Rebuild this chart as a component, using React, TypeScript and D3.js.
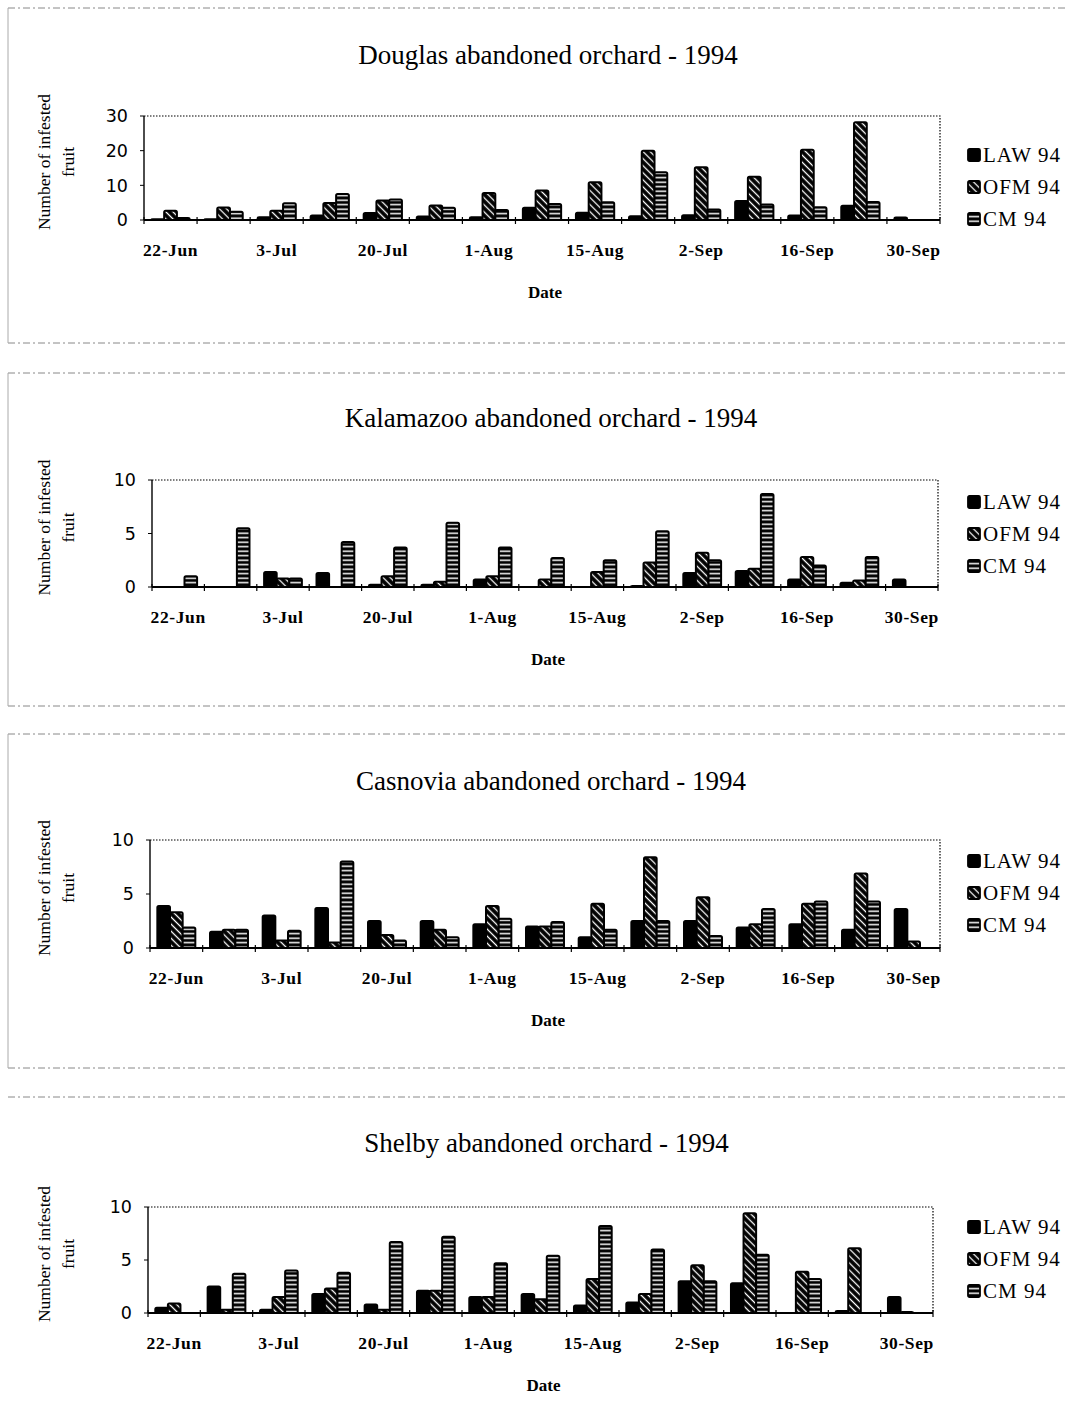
import React from 'react';
import * as d3 from 'd3';

// category axis: 15 sampling dates, Excel only printed every other label
const dateLabels = ['22-Jun', '', '3-Jul', '', '20-Jul', '', '1-Aug', '', '15-Aug', '', '2-Sep', '', '16-Sep', '', '30-Sep'];
const seriesNames = ['LAW 94', 'OFM 94', 'CM 94'];

// Douglas
const douglasLAW = [0.2, 0.2, 0.8, 1.3, 2.0, 1.0, 0.8, 3.5, 2.1, 1.1, 1.4, 5.5, 1.3, 4.1, 0.7];
const douglasOFM = [2.7, 3.6, 2.7, 4.9, 5.6, 4.2, 7.8, 8.5, 10.9, 20.0, 15.2, 12.5, 20.3, 28.2, 0];
const douglasCM = [0.6, 2.4, 4.8, 7.5, 5.9, 3.5, 2.9, 4.6, 5.1, 13.8, 3.0, 4.5, 3.7, 5.2, 0];

// Kalamazoo
const kalamazooLAW = [0, 0, 1.4, 1.3, 0.2, 0.2, 0.7, 0, 0, 0.1, 1.3, 1.5, 0.7, 0.4, 0.7];
const kalamazooOFM = [0, 0, 0.8, 0, 1.0, 0.5, 1.0, 0.7, 1.4, 2.3, 3.2, 1.7, 2.8, 0.6, 0];
const kalamazooCM = [1.0, 5.5, 0.8, 4.2, 3.7, 6.0, 3.7, 2.7, 2.5, 5.2, 2.5, 8.7, 2.0, 2.8, 0];

// Casnovia
const casnoviaLAW = [3.9, 1.5, 3.0, 3.7, 2.5, 2.5, 2.2, 2.0, 1.0, 2.5, 2.5, 1.9, 2.2, 1.7, 3.6];
const casnoviaOFM = [3.3, 1.7, 0.7, 0.5, 1.2, 1.7, 3.9, 2.0, 4.1, 8.4, 4.7, 2.2, 4.1, 6.9, 0.6];
const casnoviaCM = [1.9, 1.7, 1.6, 8.0, 0.7, 1.0, 2.7, 2.4, 1.7, 2.5, 1.1, 3.6, 4.3, 4.3, 0];

// Shelby
const shelbyLAW = [0.5, 2.5, 0.3, 1.8, 0.8, 2.1, 1.5, 1.8, 0.7, 1.0, 3.0, 2.8, 0, 0.2, 1.5];
const shelbyOFM = [0.9, 0.3, 1.5, 2.3, 0.3, 2.1, 1.5, 1.3, 3.2, 1.8, 4.5, 9.4, 3.9, 6.1, 0.1];
const shelbyCM = [0, 3.7, 4.0, 3.8, 6.7, 7.2, 4.7, 5.4, 8.2, 6.0, 3.0, 5.5, 3.2, 0, 0];

const titles = [
  'Douglas abandoned orchard - 1994',
  'Kalamazoo abandoned orchard - 1994',
  'Casnovia abandoned orchard - 1994',
  'Shelby abandoned orchard - 1994',
];
const seriesByPanel = [
  [douglasLAW, douglasOFM, douglasCM],
  [kalamazooLAW, kalamazooOFM, kalamazooCM],
  [casnoviaLAW, casnoviaOFM, casnoviaCM],
  [shelbyLAW, shelbyOFM, shelbyCM],
];
const yMaxByPanel = [30, 10, 10, 10];
const yTicksByPanel = [[0, 10, 20, 30], [0, 5, 10], [0, 5, 10], [0, 5, 10]];

// layout of each panel (pixels on the page)
const layouts = [
  { left: 144, right: 940, top: 116, bottom: 220, titleY: 64, legendY: 155 },
  { left: 152, right: 938, top: 480, bottom: 587, titleY: 427, legendY: 502 },
  { left: 150, right: 940, top: 840, bottom: 948, titleY: 790, legendY: 861 },
  { left: 148, right: 933, top: 1207, bottom: 1313, titleY: 1152, legendY: 1227 },
];
// scanned page frames around each panel
const frames = [
  { top: 8, bottom: 343 },
  { top: 373, bottom: 706 },
  { top: 734, bottom: 1068 },
  { top: 1097, bottom: 1427 },
];

const fills = ['#000', 'url(#hatchDiag)', 'url(#hatchHoriz)'];
const serif = '"Liberation Serif", "Times New Roman", serif';

function Panel({ idx }: { idx: number }) {
  const L = layouts[idx];
  const series = seriesByPanel[idx];
  const x0 = d3.scaleBand<number>().domain(d3.range(dateLabels.length)).range([L.left, L.right]);
  const x1 = d3.scaleBand<number>().domain([0, 1, 2]).range([0, x0.bandwidth()]).paddingOuter(0.58);
  const y = d3.scaleLinear().domain([0, yMaxByPanel[idx]]).range([L.bottom, L.top]);
  const cx = (L.left + L.right) / 2;
  const cy = (L.top + L.bottom) / 2 - 6;
  const boundaries = d3.range(dateLabels.length + 1).map(i => L.left + i * x0.step());

  return (
    <g>
      <text x={cx + 6} y={L.titleY} textAnchor="middle" fontFamily={serif} fontSize={27}>{titles[idx]}</text>

      {/* y axis title */}
      <g fontFamily={serif} fontSize={17.5} textAnchor="middle">
        <text transform={`translate(50,${cy}) rotate(-90)`}>Number of infested</text>
        <text transform={`translate(74,${cy}) rotate(-90)`}>fruit</text>
      </g>

      {/* plot frame */}
      <path d={`M${L.left},${L.top}H${L.right}V${L.bottom}`} fill="none" stroke="#000" strokeWidth={1.2} strokeDasharray="1.5,1.5" />
      <line x1={L.left} x2={L.left} y1={L.top} y2={L.bottom} stroke="#000" strokeWidth={1.4} />

      {/* bars */}
      {series.map((vals, s) => vals.map((v, i) => v > 0 ? (
        <rect key={`${s}-${i}`} x={x0(i)! + x1(s)!} y={y(v)} width={x1.bandwidth()} height={L.bottom - y(v)}
          fill={fills[s]} stroke="#000" strokeWidth={2} rx={1.5} />
      ) : null))}

      {/* x axis */}
      <line x1={L.left} x2={L.right} y1={L.bottom} y2={L.bottom} stroke="#000" strokeWidth={1.8} />
      {boundaries.map((bx, i) => (
        <line key={i} x1={bx} x2={bx} y1={L.bottom - 3} y2={L.bottom + 4} stroke="#000" strokeWidth={1.2} />
      ))}
      {dateLabels.map((lab, i) => lab ? (
        <text key={i} x={x0(i)! + x0.bandwidth() / 2} y={L.bottom + 36} textAnchor="middle"
          fontFamily={serif} fontWeight="bold" fontSize={17.5} letterSpacing={0.6}>{lab}</text>
      ) : null)}
      <text x={cx + 3} y={L.bottom + 78} textAnchor="middle" fontFamily={serif} fontWeight="bold" fontSize={17}>Date</text>

      {/* y axis ticks */}
      {yTicksByPanel[idx].map(t => (
        <g key={t}>
          <line x1={L.left - 4} x2={L.left} y1={y(t)} y2={y(t)} stroke="#000" strokeWidth={1} />
          <text x={L.left - 16} y={y(t)} dy="0.36em" textAnchor="end" fontFamily='"DejaVu Sans", sans-serif' fontSize={17.5}>{t}</text>
        </g>
      ))}

      {/* legend */}
      {seriesNames.map((name, s) => (
        <g key={name} transform={`translate(968,${L.legendY + s * 32})`}>
          <rect x={0} y={-6} width={12} height={12} fill={fills[s]} stroke="#000" strokeWidth={1.8} rx={1.5} />
          <text x={15} y={0} dy="0.35em" fontFamily={serif} fontSize={21} letterSpacing={1}>{name}</text>
        </g>
      ))}
    </g>
  );
}

export default function App() {
  return (
    <svg width={1075} height={1427} style={{ position: 'absolute', left: 0, top: 0, background: '#fff' }}>
      <defs>
        <pattern id="hatchDiag" patternUnits="userSpaceOnUse" width={5} height={5} patternTransform="rotate(-45)">
          <rect width={5} height={5} fill="#000" />
          <line x1={2.5} x2={2.5} y1={0} y2={5} stroke="#fff" strokeWidth={1.3} />
        </pattern>
        <pattern id="hatchHoriz" patternUnits="userSpaceOnUse" width={6} height={4.5}>
          <rect width={6} height={4.5} fill="#000" />
          <line x1={0} x2={6} y1={2.2} y2={2.2} stroke="#fff" strokeWidth={1.5} />
        </pattern>
      </defs>
      <rect width={1075} height={1427} fill="#fff" />
      {frames.map((f, i) => (
        <g key={i} stroke="#888" strokeWidth={1} strokeDasharray="7,3,2,3" fill="none">
          <line x1={8} x2={1067} y1={f.top} y2={f.top} />
          {i < 3 && <line x1={8} x2={1067} y1={f.bottom} y2={f.bottom} />}
          {i < 3 && <line x1={8} x2={8} y1={f.top} y2={f.bottom} strokeDasharray="none" stroke="#aaa" />}
        </g>
      ))}
      {layouts.map((_, i) => <Panel key={i} idx={i} />)}
    </svg>
  );
}
